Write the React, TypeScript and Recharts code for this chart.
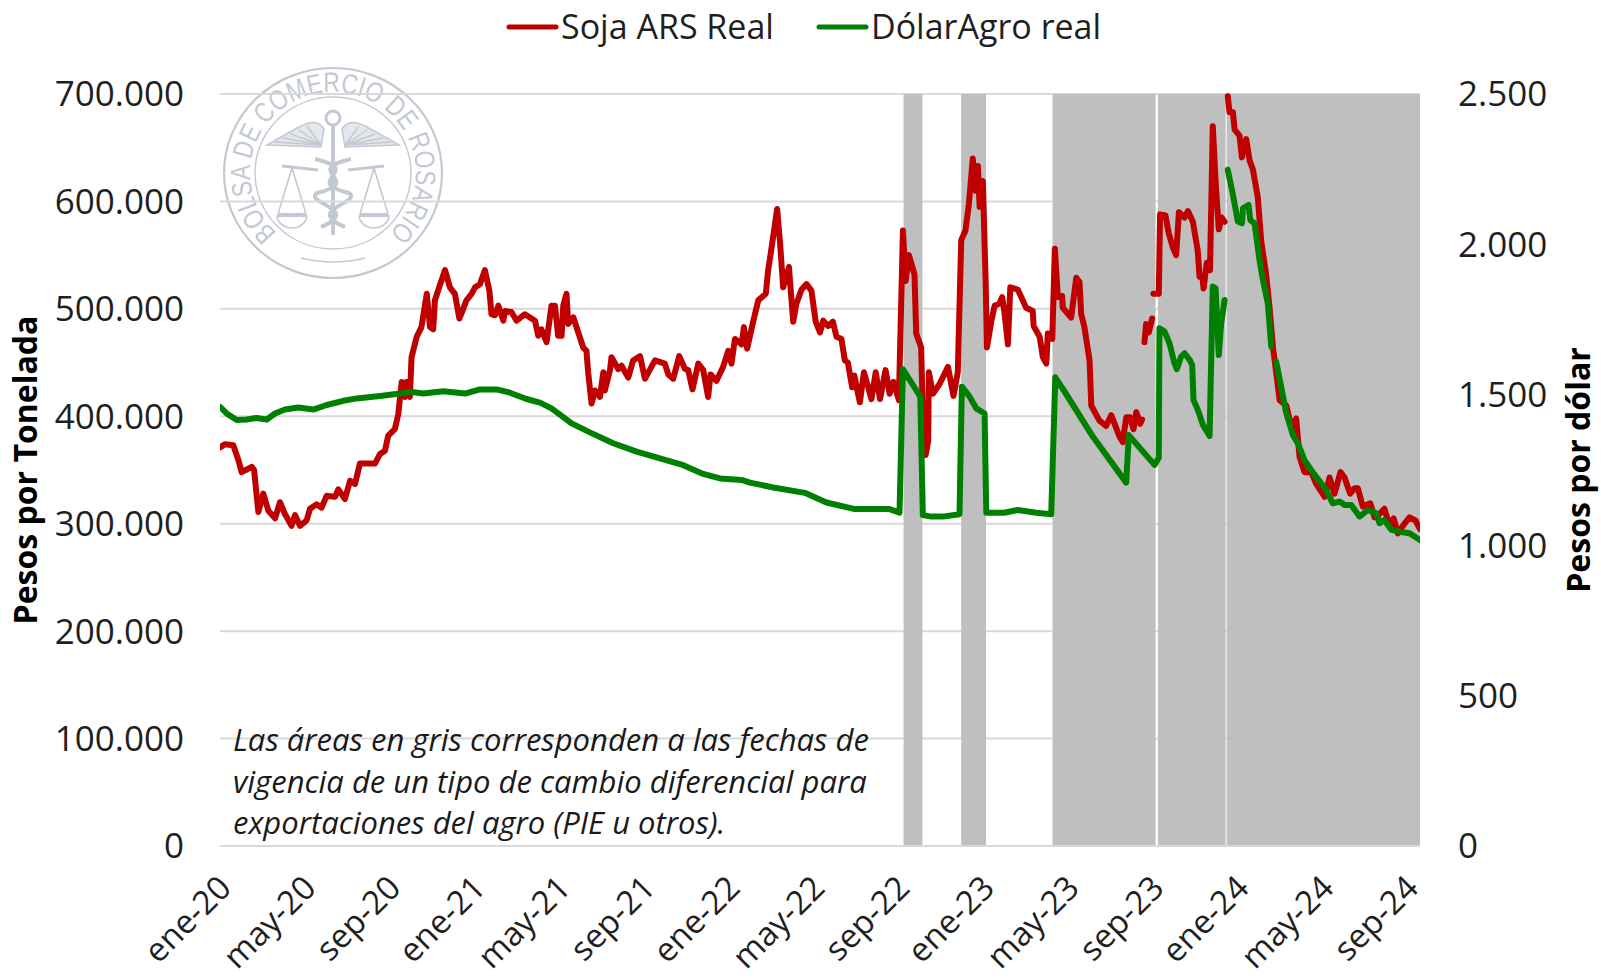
import React from 'react';
import { LineChart, Line, XAxis, YAxis, CartesianGrid, ReferenceArea, Legend } from 'recharts';

// x = months since January 2020, soja = thousands of pesos per tonne, dolar = pesos per dollar
const sojaPart1 = [[0,371],[.23,374],[.62,373],[.86,359],[1.01,348],[1.48,353],[1.59,350],[1.79,311],[2.02,328],[2.26,312],[2.57,305],[2.8,320],[3.03,309],[3.34,298],[3.5,308],[3.73,298],[4.04,303],[4.2,314],[4.5,318],[4.74,315],[4.98,326],[5.37,325],[5.52,332],[5.83,323],[6.07,340],[6.3,337],[6.53,356],[6.84,356],[7.23,356],[7.47,365],[7.7,368],[7.85,382],[8.16,388],[8.32,402],[8.48,432],[8.63,418],[8.71,432],[8.86,418],[8.94,455],[9.18,474],[9.4,483],[9.65,514],[9.8,483],[9.95,481],[10.03,508],[10.26,522],[10.5,536],[10.73,520],[10.96,514],[11.17,491],[11.35,500],[11.5,508],[11.74,514],[11.9,520],[12.13,523],[12.36,536],[12.57,517],[12.67,495],[12.83,494],[12.99,503],[13.22,489],[13.3,498],[13.6,497],[13.84,489],[14.23,495],[14.7,489],[14.85,475],[15,481],[15.24,469],[15.47,503],[15.63,503],[15.78,475],[15.94,475],[16.02,503],[16.17,514],[16.25,486],[16.49,492],[16.72,478],[16.95,464],[17.1,461],[17.18,441],[17.34,412],[17.5,424],[17.73,418],[17.89,441],[17.96,424],[18.2,443],[18.27,455],[18.58,444],[18.74,447],[19.05,436],[19.28,452],[19.6,456],[19.83,435],[20.3,452],[20.76,449],[20.92,439],[21.15,435],[21.43,456],[21.7,444],[21.85,443],[22.05,425],[22.32,449],[22.55,443],[22.78,418],[22.89,439],[23.17,433],[23.48,446],[23.72,461],[23.87,449],[24.03,472],[24.34,467],[24.45,483],[24.6,463],[24.88,488],[25.12,508],[25.47,514],[25.58,536],[25.74,557],[26,593],[26.13,563],[26.28,520],[26.55,539],[26.75,488],[26.9,505],[27.14,518],[27.37,523],[27.6,517],[27.8,488],[28,478],[28.15,489],[28.38,484],[28.6,488],[28.77,474],[29,472],[29.16,452],[29.3,450],[29.5,427],[29.6,438],[29.86,413],[30.05,441],[30.25,427],[30.4,416],[30.6,441],[30.8,416],[31.06,443],[31.25,421],[31.43,432],[31.68,415],[31.87,573],[32,526],[32.15,550],[32.41,532],[32.49,477],[32.72,464],[32.8,402],[32.93,364],[33.05,377],[33.08,441],[33.27,421],[33.58,430],[33.97,446],[34.23,419],[34.43,441],[34.59,564],[34.79,573],[34.95,598],[35.13,640],[35.26,610],[35.37,633],[35.45,595],[35.6,619],[35.73,526],[35.79,464],[36,489],[36.15,503],[36.38,505],[36.5,511],[36.6,498],[36.77,467],[36.88,520],[37.23,518],[37.62,501],[37.93,498],[37.97,484],[38.25,474],[38.4,455],[38.56,449],[38.63,477],[38.84,472],[38.96,556],[39.1,511],[39.3,512],[39.33,501],[39.72,492],[39.96,529],[40.11,525],[40.19,495],[40.34,483],[40.58,452],[40.66,410],[41.04,396],[41.35,391],[41.59,401],[41.98,381],[42.13,376],[42.29,399],[42.47,399],[42.63,388],[42.76,404],[42.94,393],[43.03,397]];
const sojaPart2 = [[43.14,469],[43.22,486],[43.34,478],[43.5,491]];
const sojaPart3 = [[43.56,514],[43.81,514],[43.87,588],[44.12,587],[44.28,570],[44.47,557],[44.62,550],[44.75,590],[45.01,585],[45.17,591],[45.4,581],[45.63,554],[45.71,530],[45.84,531],[45.9,519],[46.05,543],[46.2,536],[46.33,670],[46.46,619],[46.61,574],[46.74,585],[46.88,581]];
const sojaPart4 = [[47.03,698],[47.11,683],[47.27,683],[47.35,667],[47.58,661],[47.69,641],[47.89,658],[48.05,638],[48.2,630],[48.43,604],[48.59,563],[48.82,532],[48.98,501],[49.14,464],[49.3,439],[49.45,415],[49.76,410],[49.99,390],[50.22,398],[50.38,362],[50.61,348],[50.92,348],[51.16,337],[51.55,325],[51.78,343],[52.01,328],[52.29,348],[52.48,343],[52.74,328],[52.95,333],[53.1,333],[53.33,316],[53.68,319],[53.88,306],[54.11,309],[54.34,314],[54.58,298],[54.77,305],[54.97,291],[55.2,298],[55.51,306],[55.79,303],[56,295]];

const dolarPart1 = [[0,1460],[.31,1438],[.78,1416],[1.24,1418],[1.71,1423],[2.18,1418],[2.57,1438],[3.03,1451],[3.65,1458],[4.35,1451],[4.98,1466],[5.75,1480],[6.38,1488],[7.47,1496],[8.4,1504],[8.86,1510],[9.49,1504],[10.42,1512],[11.43,1504],[12.13,1518],[12.91,1518],[13.53,1507],[14.3,1486],[14.93,1474],[15.47,1455],[16.41,1405],[17.26,1375],[18.35,1339],[19.44,1311],[20.53,1289],[21.62,1266],[22.55,1237],[23.33,1222],[24.34,1217],[24.73,1208],[25.82,1192],[27.29,1174],[28.3,1142],[29.62,1120],[31.25,1120],[31.71,1108],[31.87,1585],[32.68,1494],[32.8,1100],[33.19,1095],[33.73,1095],[34.51,1103],[34.62,1527],[34.98,1494],[35.29,1455],[35.68,1438],[35.76,1108],[36.6,1108],[37.23,1117],[38.09,1108],[38.79,1103],[38.98,1558],[39.41,1511],[40.73,1361],[42.29,1208],[42.41,1366],[43.61,1267],[43.81,1291],[43.84,1721],[44.08,1710],[44.31,1671],[44.54,1605],[44.65,1585],[44.85,1627],[45.01,1638],[45.25,1616],[45.37,1599],[45.43,1483],[45.63,1450],[45.87,1400],[46.18,1363],[46.33,1860],[46.46,1854],[46.61,1632],[46.72,1738],[46.88,1815]];
const dolarPart2 = [[47.03,2248],[47.27,2165],[47.5,2076],[47.69,2070],[47.74,2120],[48,2131],[48.08,2081],[48.28,2070],[48.51,1949],[48.67,1882],[48.9,1804],[49.06,1660]];
const dolarPart3 = [[49.29,1610],[49.52,1527],[49.76,1439],[50.07,1366],[50.3,1339],[50.61,1283],[50.92,1250],[51.62,1184],[51.93,1139],[52.24,1145],[52.48,1134],[52.79,1134],[53.18,1095],[53.57,1117],[53.96,1106],[54.11,1073],[54.34,1084],[54.66,1051],[55.05,1045],[55.51,1040],[56,1017]];

const greyBands = [[31.9,32.78],[34.59,35.75],[38.85,43.66],[43.77,46.93],[46.98,56]];
const xTicks = [0,4,8,12,16,20,24,28,32,36,40,44,48,52,56];
const xLabels = ['ene-20','may-20','sep-20','ene-21','may-21','sep-21','ene-22','may-22','sep-22','ene-23','may-23','sep-23','ene-24','may-24','sep-24'];
const leftTicks = [0,100,200,300,400,500,600,700];
const rightTicks = [0,500,1000,1500,2000,2500];
const noteLines = ['Las áreas en gris corresponden a las fechas de','vigencia de un tipo de cambio diferencial para','exportaciones del agro (PIE u otros).'];

const FONT = '"Open Sans", sans-serif';
const INK = '#1f1f1f';
const RED = '#C00000';
const GREEN = '#008000';

const joinParts = (parts: number[][][], key: string) => {
  const out: any[] = [];
  parts.forEach((p, i) => {
    p.forEach(([m, v]) => out.push({ m, [key]: v }));
    if (i < parts.length - 1) out.push({ m: p[p.length - 1][0] + 0.01, [key]: null });
  });
  return out;
};
const sojaData = joinParts([sojaPart1, sojaPart2, sojaPart3, sojaPart4], 'soja');
const dolarData = joinParts([dolarPart1, dolarPart2, dolarPart3], 'dolar');

const XTick = ({ x, y, payload }: any) => {
  const i = xTicks.indexOf(payload.value);
  const ex = x + 13 - 0.9 * i;
  const ey = y + 36;
  return (
    <text x={ex} y={ey} textAnchor="end" fontFamily={FONT} fontSize={33} fill={INK} transform={`rotate(-45 ${ex} ${ey})`}>
      {xLabels[i]}
    </text>
  );
};

const LegendBox = () => (
  <svg width={1601} height={54} style={{ display: 'block' }}>
    <line x1={509} x2={556} y1={27} y2={27} stroke={RED} strokeWidth={5} strokeLinecap="round" />
    <text x={561} y={39} fontFamily={FONT} fontSize={34} fill={INK}>Soja ARS Real</text>
    <line x1={819} x2={866} y1={27} y2={27} stroke={GREEN} strokeWidth={5} strokeLinecap="round" />
    <text x={871} y={39} fontFamily={FONT} fontSize={34} fill={INK}>DólarAgro real</text>
  </svg>
);

const Logo = () => {
  const cx = 333, cy = 173;
  const c = '#C3C9D2';
  const wing = (s: number) => (
    <g stroke={c} fill="none" strokeWidth={1.5}>
      <path d={`M${cx + s * 9} ${cy - 44} Q${cx + s * 16} ${cy - 56} ${cx + s * 34} ${cy - 46} T${cx + s * 66} ${cy - 28} Q${cx + s * 34} ${cy - 27} ${cx + s * 12} ${cy - 26} Z`} fill="#E4E7EB" />
      {[0, 1, 2, 3, 4].map((i) => (
        <path key={i} d={`M${cx + s * 12} ${cy - 28} L${cx + s * (26 + i * 8)} ${cy - 47 + i * 4}`} />
      ))}
    </g>
  );
  const pan = (s: number) => {
    const px = cx + s * 41;
    return (
      <g stroke={c} fill="none" strokeWidth={1.6}>
        <path d={`M${px} ${cy - 5} L${px - 14} ${cy + 41} M${px} ${cy - 5} L${px + 14} ${cy + 41}`} />
        <path d={`M${px - 15} ${cy + 42} A15 13 0 0 0 ${px + 15} ${cy + 42}`} />
        <line x1={px - 14} x2={px + 14} y1={cy + 42} y2={cy + 42} strokeWidth={4} />
        <path d={`M${cx + s * 15} ${cy - 3} L${px + s * 10} ${cy - 7}`} strokeWidth={3} />
      </g>
    );
  };
  return (
    <svg width={1601} height={979} style={{ position: 'absolute', left: 0, top: 0 }}>
      <defs>
        <path id="ringPath" d={`M${cx} ${cy + 81} A83 81 0 0 1 ${cx} ${cy - 81} A83 81 0 0 1 ${cx} ${cy + 81}`} />
      </defs>
      <ellipse cx={cx} cy={cy} rx={109} ry={105} fill="none" stroke={c} strokeWidth={2.2} />
      <ellipse cx={cx} cy={cy} rx={78} ry={76} fill="none" stroke={c} strokeWidth={1.4} />
      <text fontFamily="Liberation Sans, sans-serif" fontSize={28} fill={c}>
        <textPath href="#ringPath" startOffset="50%" textAnchor="middle" textLength={392} lengthAdjust="spacingAndGlyphs">BOLSA DE COMERCIO DE ROSARIO</textPath>
      </text>
      {wing(-1)}
      {wing(1)}
      <circle cx={cx} cy={cy - 55} r={7} fill="none" stroke={c} strokeWidth={3} />
      <line x1={cx} x2={cx} y1={cy - 48} y2={cy + 62} stroke={c} strokeWidth={4} />
      <path d={`M${cx - 18} ${cy - 14} C${cx + 34} ${cy - 2} ${cx - 34} ${cy + 8} ${cx + 16} ${cy + 20} C${cx + 30} ${cy + 30} ${cx - 30} ${cy + 36} ${cx + 12} ${cy + 54}`} stroke={c} fill="none" strokeWidth={4} />
      <path d={`M${cx + 18} ${cy - 14} C${cx - 34} ${cy - 2} ${cx + 34} ${cy + 8} ${cx - 16} ${cy + 20} C${cx - 30} ${cy + 30} ${cx + 30} ${cy + 36} ${cx - 12} ${cy + 54}`} stroke={c} fill="none" strokeWidth={4} />
      {pan(-1)}
      {pan(1)}
      <path d={`M${cx - 32} ${cy + 85} Q${cx} ${cy + 93} ${cx + 32} ${cy + 85}`} stroke={c} fill="none" strokeWidth={1.6} />
    </svg>
  );
};

export default function App() {
  return (
    <div style={{ position: 'absolute', left: 0, top: 0, width: 1601, height: 979, background: '#fff', overflow: 'hidden' }}>
      <Logo />
      <div style={{ position: 'absolute', left: 0, top: 0 }}>
        <LineChart width={1601} height={979} margin={{ top: 40, right: 81, bottom: 0, left: 120 }}>
          <CartesianGrid vertical={false} stroke="#D9D9D9" strokeWidth={2} yAxisId="left" syncWithTicks />
          <XAxis xAxisId={0} type="number" dataKey="m" domain={[0, 56]} ticks={xTicks} interval={0} height={133}
            tick={<XTick />} tickLine={false} axisLine={{ stroke: '#D9D9D9', strokeWidth: 2 }} allowDataOverflow />
          <YAxis yAxisId="left" orientation="left" domain={[0, 700]} ticks={leftTicks} width={100} interval={0}
            tickFormatter={(v: number) => (v === 0 ? '0' : `${v}.000`)} axisLine={false} tickLine={false} tickMargin={36} tickSize={0}
            tick={{ fontFamily: FONT, fontSize: 35, fill: INK }}
            label={{ content: () => <text transform="translate(37 470) rotate(-90)" textAnchor="middle" fontFamily={FONT} fontWeight={700} fontSize={32} fill="#000">Pesos por Tonelada</text> }} />
          <YAxis yAxisId="right" orientation="right" domain={[0, 2500]} ticks={rightTicks} width={100} interval={0}
            tickFormatter={(v: number) => (v >= 1000 ? `${Math.floor(v / 1000)}.${String(v % 1000).padStart(3, '0')}` : String(v))} axisLine={false} tickLine={false} tickMargin={38} tickSize={0}
            tick={{ fontFamily: FONT, fontSize: 35, fill: INK }}
            label={{ content: () => <text transform="translate(1590 470) rotate(-90)" textAnchor="middle" fontFamily={FONT} fontWeight={700} fontSize={32} fill="#000">Pesos por dólar</text> }} />
          <Legend verticalAlign="top" content={<LegendBox />} wrapperStyle={{ top: 0, left: 0, width: 1601, height: 54 }} />
          {greyBands.map(([a, b]) => (
            <ReferenceArea key={a} yAxisId="left" x1={a} x2={b} y1={0} y2={700} fill="#BFBFBF" fillOpacity={1} stroke="none" />
          ))}
          <Line yAxisId="left" data={sojaData} dataKey="soja" name="Soja ARS Real" stroke={RED} strokeWidth={6} dot={false} connectNulls={false} isAnimationActive={false} strokeLinejoin="round" strokeLinecap="round" />
          <Line yAxisId="right" data={dolarData} dataKey="dolar" name="DólarAgro real" stroke={GREEN} strokeWidth={6} dot={false} connectNulls={false} isAnimationActive={false} strokeLinejoin="round" strokeLinecap="round" />
        </LineChart>
      </div>
      <svg width={1601} height={979} style={{ position: 'absolute', left: 0, top: 0, pointerEvents: 'none' }}>
        {noteLines.map((t, i) => (
          <text key={i} x={233} y={751 + i * 41.5} fontFamily={FONT} fontStyle="italic" fontSize={31} fill="#1a1a1a">{t}</text>
        ))}
      </svg>
    </div>
  );
}
